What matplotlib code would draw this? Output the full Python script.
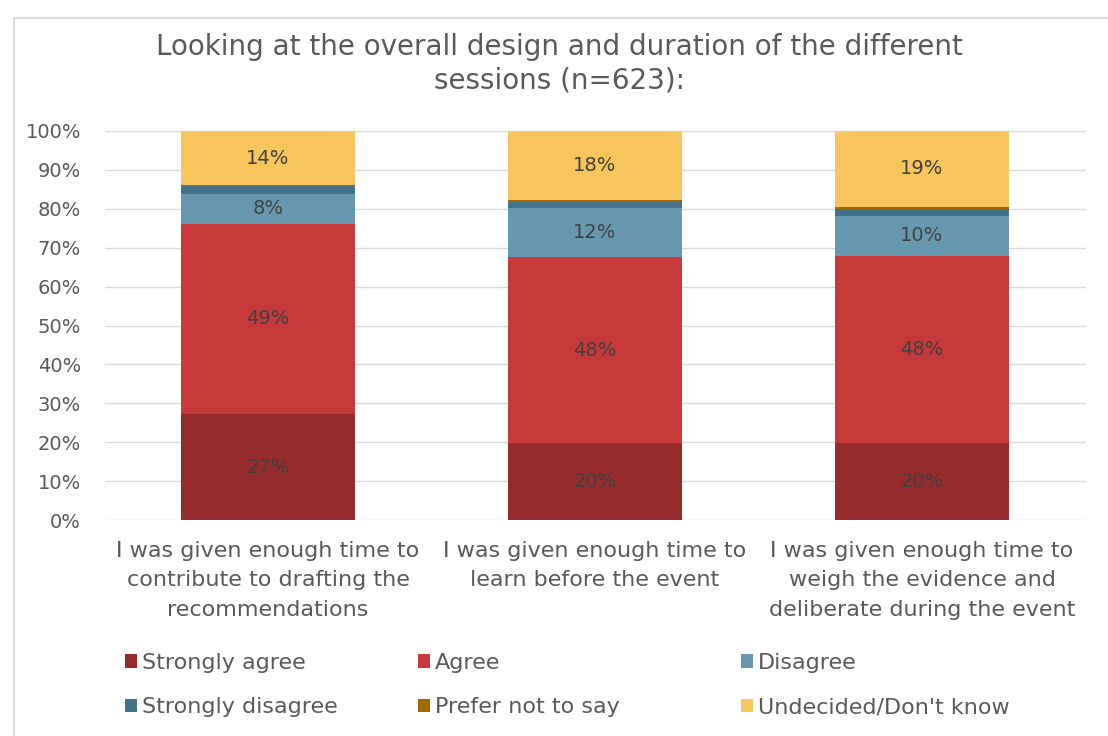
import numpy as np
import matplotlib.pyplot as plt
from matplotlib.patches import Rectangle

plt.rcParams['font.family'] = ['DejaVu Sans']

categories = ['I was given enough time to\ncontribute to drafting the\nrecommendations',
              'I was given enough time to\nlearn before the event',
              'I was given enough time to\nweigh the evidence and\ndeliberate during the event']
series = ['Strongly agree', 'Agree', 'Disagree', 'Strongly disagree',
          'Prefer not to say', "Undecided/Don't know"]
strongly_agree = [27.2, 19.8, 19.7]
agree = [49.0, 47.7, 48.2]
disagree = [7.7, 12.6, 10.3]
strongly_disagree = [1.9, 1.6, 1.8]
prefer_not = [0.3, 0.5, 0.5]
undecided = [13.9, 17.8, 19.5]
shown_labels = [['27%', '49%', '8%', '', '', '14%'],
                ['20%', '48%', '12%', '', '', '18%'],
                ['20%', '48%', '10%', '', '', '19%']]

colors = ['#962b2b', '#c83a3a', '#6699b1', '#44728b', '#a06a00', '#f7c55b']
values = [strongly_agree, agree, disagree, strongly_disagree, prefer_not, undecided]

fig = plt.figure(figsize=(11.08, 7.36), dpi=100)
ax = fig.add_axes([104.5/1108, 1 - 520/736, 981/1108, 389/736])

# light frame around the chart
fig.patches.append(Rectangle((14/1108, -0.05), 1.2, 1 - 18/736 + 0.05,
                             transform=fig.transFigure, fill=False,
                             edgecolor='#d9d9d9', lw=1.5))

x = np.arange(len(categories))
bottom = np.zeros(len(categories))
handles = []
for i, vals in enumerate(values):
    b = ax.bar(x, vals, 0.53, bottom=bottom, color=colors[i], label=series[i], zorder=2)
    handles.append(b)
    for j in range(len(categories)):
        lab = shown_labels[j][i]
        if lab:
            ax.text(x[j], bottom[j] + vals[j] / 2, lab, ha='center', va='center',
                    fontsize=14, color='#404040', zorder=3)
    bottom += np.array(vals)

ax.set_xlim(-0.5, 2.5)
ax.set_ylim(0, 100)
ax.set_yticks(np.arange(0, 101, 10))
ax.set_yticklabels([f'{v}%' for v in range(0, 101, 10)], fontsize=14, color='#595959')
ax.yaxis.grid(True, color='#d9d9d9', lw=1, zorder=0)
ax.tick_params(axis='both', length=0)
ax.tick_params(axis='y', pad=17)
ax.set_xticks(x)
ax.set_xticklabels(categories, fontsize=16, color='#595959', linespacing=1.6)
ax.tick_params(axis='x', pad=15)
for s in ax.spines.values():
    s.set_visible(False)

fig.text(0.505, 1 - 47/736, 'Looking at the overall design and duration of the different',
         ha='center', va='center', fontsize=20, color='#595959')
fig.text(0.505, 1 - 80/736, 'sessions (n=623):',
         ha='center', va='center', fontsize=20, color='#595959')

# legend, three columns placed separately
col_x = [116, 409, 732]
for c in range(3):
    leg = fig.legend([handles[c], handles[c + 3]], [series[c], series[c + 3]],
                     loc='upper left', bbox_to_anchor=(col_x[c] / 1108, 1 - 644 / 736),
                     frameon=False, fontsize=16, handlelength=0.55, handleheight=0.55,
                     handletextpad=0.2, labelspacing=1.1, borderaxespad=0)
    for t in leg.get_texts():
        t.set_color('#595959')

fig.savefig('out.png', dpi=100)
